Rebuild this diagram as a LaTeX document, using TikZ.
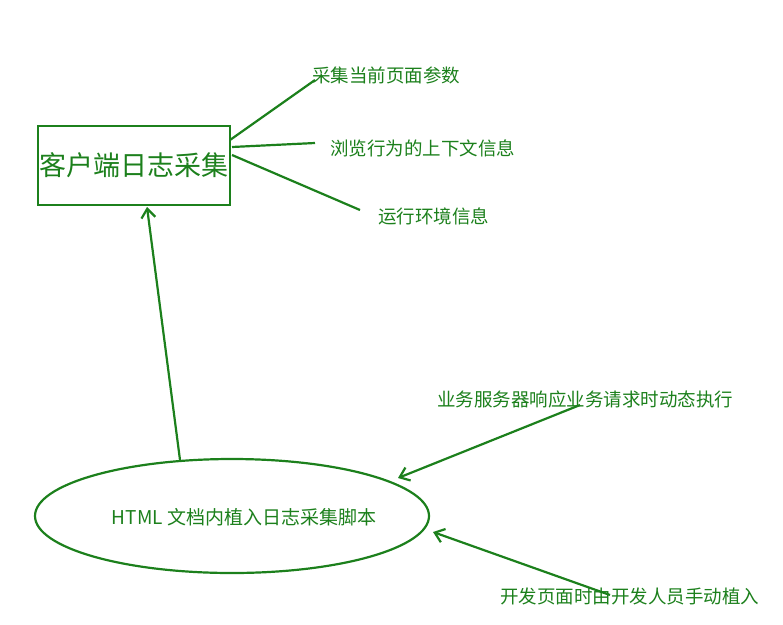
\documentclass[tikz,border=0pt]{standalone}
\usepackage{fontspec}
\usetikzlibrary{shapes.geometric,arrows.meta}
\newfontfamily\cjk{Noto Sans CJK SC}
\definecolor{g}{RGB}{28,128,28}
\begin{document}
\begin{tikzpicture}[x=1pt,y=-1pt,
  ln/.style={draw=g,line width=2.2pt},
  arr/.style={ln,-{Straight Barb[length=9pt,width=14pt]}},
  lbl/.style={text=g,font=\cjk\fontsize{18.5}{20}\selectfont,anchor=west,inner sep=0pt}]
\useasboundingbox (0,0) rectangle (783,624);
\node[ln,minimum width=192pt,minimum height=79pt,inner sep=0pt,text=g,font=\cjk\fontsize{27}{30}\selectfont] (box) at (134,165.5) {客户端日志采集};
\node[ln,ellipse,minimum width=394pt,minimum height=114pt,inner sep=0pt] (ell) at (232,516) {};
\node[text=g,font=\cjk\fontsize{19}{21}\selectfont] (et) at (244,517) {HTML 文档内植入日志采集脚本};
\node[lbl] (l1) at (312,75) {采集当前页面参数};
\node[lbl] (l2) at (330,148) {浏览行为的上下文信息};
\node[lbl] (l3) at (378,216) {运行环境信息};
\node[lbl] (l4) at (437,399) {业务服务器响应业务请求时动态执行};
\node[lbl] (l5) at (500,596) {开发页面时由开发人员手动植入};
\coordinate (a1) at (230,140); \coordinate (b1) at (315,80);
\coordinate (a2) at (232,147); \coordinate (b2) at (315,143);
\coordinate (a3) at (232,155); \coordinate (b3) at (360,210);
\draw[ln] (a1) -- (b1); \draw[ln] (a2) -- (b2); \draw[ln] (a3) -- (b3);
\coordinate (s1) at (180,460); \coordinate (t1) at (147,207);
\coordinate (s2) at (580,405); \coordinate (t2) at (398,478);
\coordinate (s3) at (610,595); \coordinate (t3) at (433,532);
\draw[arr] (s1) -- (t1);
\draw[arr] (s2) -- (t2);
\draw[arr] (s3) -- (t3);
\end{tikzpicture}
\end{document}
